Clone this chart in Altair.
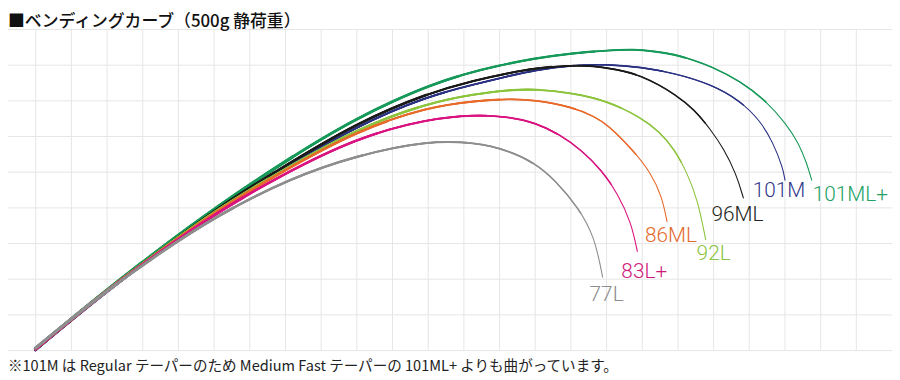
import math
import altair as alt
import pandas as pd

# ---- data (x: horizontal position, h: height above the butt) ----
series_names = ["101ML+", "101M", "96ML", "92L", "86ML", "83L+", "77L"]
series_colors = ["#17995a", "#2a3183", "#1a1a1a", "#8dc43e", "#e86a2a", "#d9137f", "#8e8e8e"]
label_colors = ["#22a064", "#2f3689", "#231f20", "#8cc43f", "#e4692c", "#cf1a7c", "#8c8c8c"]
line_widths = [3.0, 2.0, 2.6, 2.6, 2.5, 2.5, 2.5]

x_101MLp = [35, 100, 160, 220, 280, 323, 360, 397, 432, 468, 500, 540, 577, 613, 640, 660, 680, 700, 717, 747, 773, 793, 806, 814, 819]
h_101MLp = [1, 55, 102, 146, 186, 213, 234, 252, 267, 279, 287, 295, 300, 303, 304, 302, 299, 293, 287, 272, 252, 229, 209, 189, 172]

x_101M = [35, 100, 160, 220, 280, 360, 432, 480, 513, 540, 577, 613, 647, 680, 717, 747, 767, 780, 790, 792]
h_101M = [0, 54, 99, 143, 180, 227, 257, 269, 277, 283, 288, 289, 286, 280, 269, 252, 232, 210, 184, 172]

x_96ML = [35, 100, 160, 220, 280, 360, 432, 480, 513, 540, 577, 600, 613, 630, 647, 665, 680, 700, 717, 730, 743, 750]
h_96ML = [1, 55, 100, 144, 182, 230, 260, 273, 280, 285, 288, 287, 285, 282, 277, 268, 259, 244, 223, 204, 178, 154]

x_92L = [35, 100, 160, 220, 280, 360, 432, 480, 513, 540, 577, 613, 647, 665, 680, 693, 704, 712]
h_92L = [1, 55, 100, 143, 179, 224, 250, 259, 263, 264, 260, 252, 235, 221, 204, 180, 152, 112]

x_86ML = [35, 100, 160, 220, 280, 360, 432, 480, 513, 540, 577, 600, 613, 638, 657, 668, 673]
h_86ML = [1, 55, 99, 142, 178, 222, 246, 252, 254, 253, 246, 236, 228, 203, 179, 155, 130]

x_83Lp = [35, 100, 160, 220, 280, 360, 432, 480, 513, 540, 565, 587, 607, 623, 637, 643]
h_83Lp = [1, 55, 99, 140, 175, 215, 234, 238, 236, 230, 218, 202, 182, 159, 129, 100]

x_77L = [35, 100, 160, 220, 293, 360, 432, 480, 513, 540, 560, 583, 600, 608]
h_77L = [2, 55, 98, 137, 174, 197, 212, 210, 202, 189, 172, 145, 115, 74]

curve_x = [x_101MLp, x_101M, x_96ML, x_92L, x_86ML, x_83Lp, x_77L]
curve_h = [h_101MLp, h_101M, h_96ML, h_92L, h_86ML, h_83Lp, h_77L]

label_x = [858, 786, 744, 720, 677, 650, 612]
label_h = [151, 155, 131, 91, 110, 73, 50]

grid_x = list(range(36, 900, 36))
grid_h = list(range(0, 325, 36))

title_text = "■ベンディングカーブ（500g 静荷重）"
note_text = "※101M は Regular テーパーのため Medium Fast テーパーの 101ML+ よりも曲がっています。"

# ---- chart ----
W, H = 892, 372
xs = alt.Scale(domain=[8, 900], nice=False, zero=False)
ys = alt.Scale(domain=[-28, 344], nice=False, zero=False)
INTERP = "basis"


def X(f):
    return alt.X(f, scale=xs, axis=None)


def Y(f):
    return alt.Y(f, scale=ys, axis=None)


vdf = pd.DataFrame({"gx": grid_x, "lo": [min(grid_h)] * len(grid_x), "hi": [max(grid_h)] * len(grid_x)})
hdf = pd.DataFrame({"gh": grid_h, "lo": [0] * len(grid_h), "hi": [900] * len(grid_h)})

vgrid = alt.Chart(vdf).mark_rule(color="#e6e6e6", strokeWidth=1).encode(
    x=X("gx:Q"), y=Y("lo:Q"), y2="hi:Q"
)
hgrid = alt.Chart(hdf).mark_rule(color="#e6e6e6", strokeWidth=1).encode(
    y=Y("gh:Q"), x=X("lo:Q"), x2="hi:Q"
)

# taper: fraction of the rod drawn at each width step (same path, cut with a dash)
taper_frac = [1.0, 0.9, 0.8, 0.7, 0.55, 0.35, 0.15]
TIP_W = 1.1

layers = [vgrid, hgrid]
for name, col, w, xv, hv in zip(series_names, series_colors, line_widths, curve_x, curve_h):
    n = len(xv)
    df = pd.DataFrame({"x": xv, "h": hv, "i": list(range(n))})
    length = sum(math.hypot(xv[j + 1] - xv[j], hv[j + 1] - hv[j]) for j in range(n - 1))
    base = alt.Chart(df).encode(x=X("x:Q"), y=Y("h:Q"), order=alt.Order("i:Q"))
    steps = len(taper_frac)
    for s, f in enumerate(taper_frac):
        sw = TIP_W + (w + 0.6 - TIP_W) * s / (steps - 1)
        if f >= 1.0:
            layers.append(base.mark_line(color=col, strokeWidth=sw, interpolate=INTERP, strokeCap="round"))
        else:
            layers.append(base.mark_line(
                color=col, strokeWidth=sw, interpolate=INTERP, strokeCap="butt",
                strokeDash=[round(f * length, 1), round(length * 3, 1)],
            ))

lab = pd.DataFrame({"name": series_names, "lx": label_x, "lh": label_h, "c": label_colors})
labels = alt.Chart(lab).mark_text(
    font="Roboto", fontSize=21, fontWeight=300, align="center", baseline="alphabetic"
).encode(
    x=X("lx:Q"), y=Y("lh:Q"), text="name:N",
    color=alt.Color("c:N", scale=None),
)
layers.append(labels)

title = alt.Chart(pd.DataFrame({"t": [title_text]})).mark_text(
    font="Noto Sans CJK JP", fontSize=17, fontWeight=500, align="left", baseline="alphabetic", color="#111111"
).encode(x=alt.value(0), y=alt.value(17), text="t:N")
note = alt.Chart(pd.DataFrame({"t": [note_text]})).mark_text(
    font="Noto Sans CJK JP", fontSize=14.7, align="left", baseline="alphabetic", color="#222222"
).encode(x=alt.value(0), y=alt.value(365), text="t:N")
layers += [title, note]

chart = alt.layer(*layers).properties(
    width=W, height=H, padding=0, autosize=alt.AutoSizeParams(type="none"), background="white"
).configure_view(strokeWidth=0)

chart.save("out.html", embed_options={"renderer": "svg", "actions": False})
